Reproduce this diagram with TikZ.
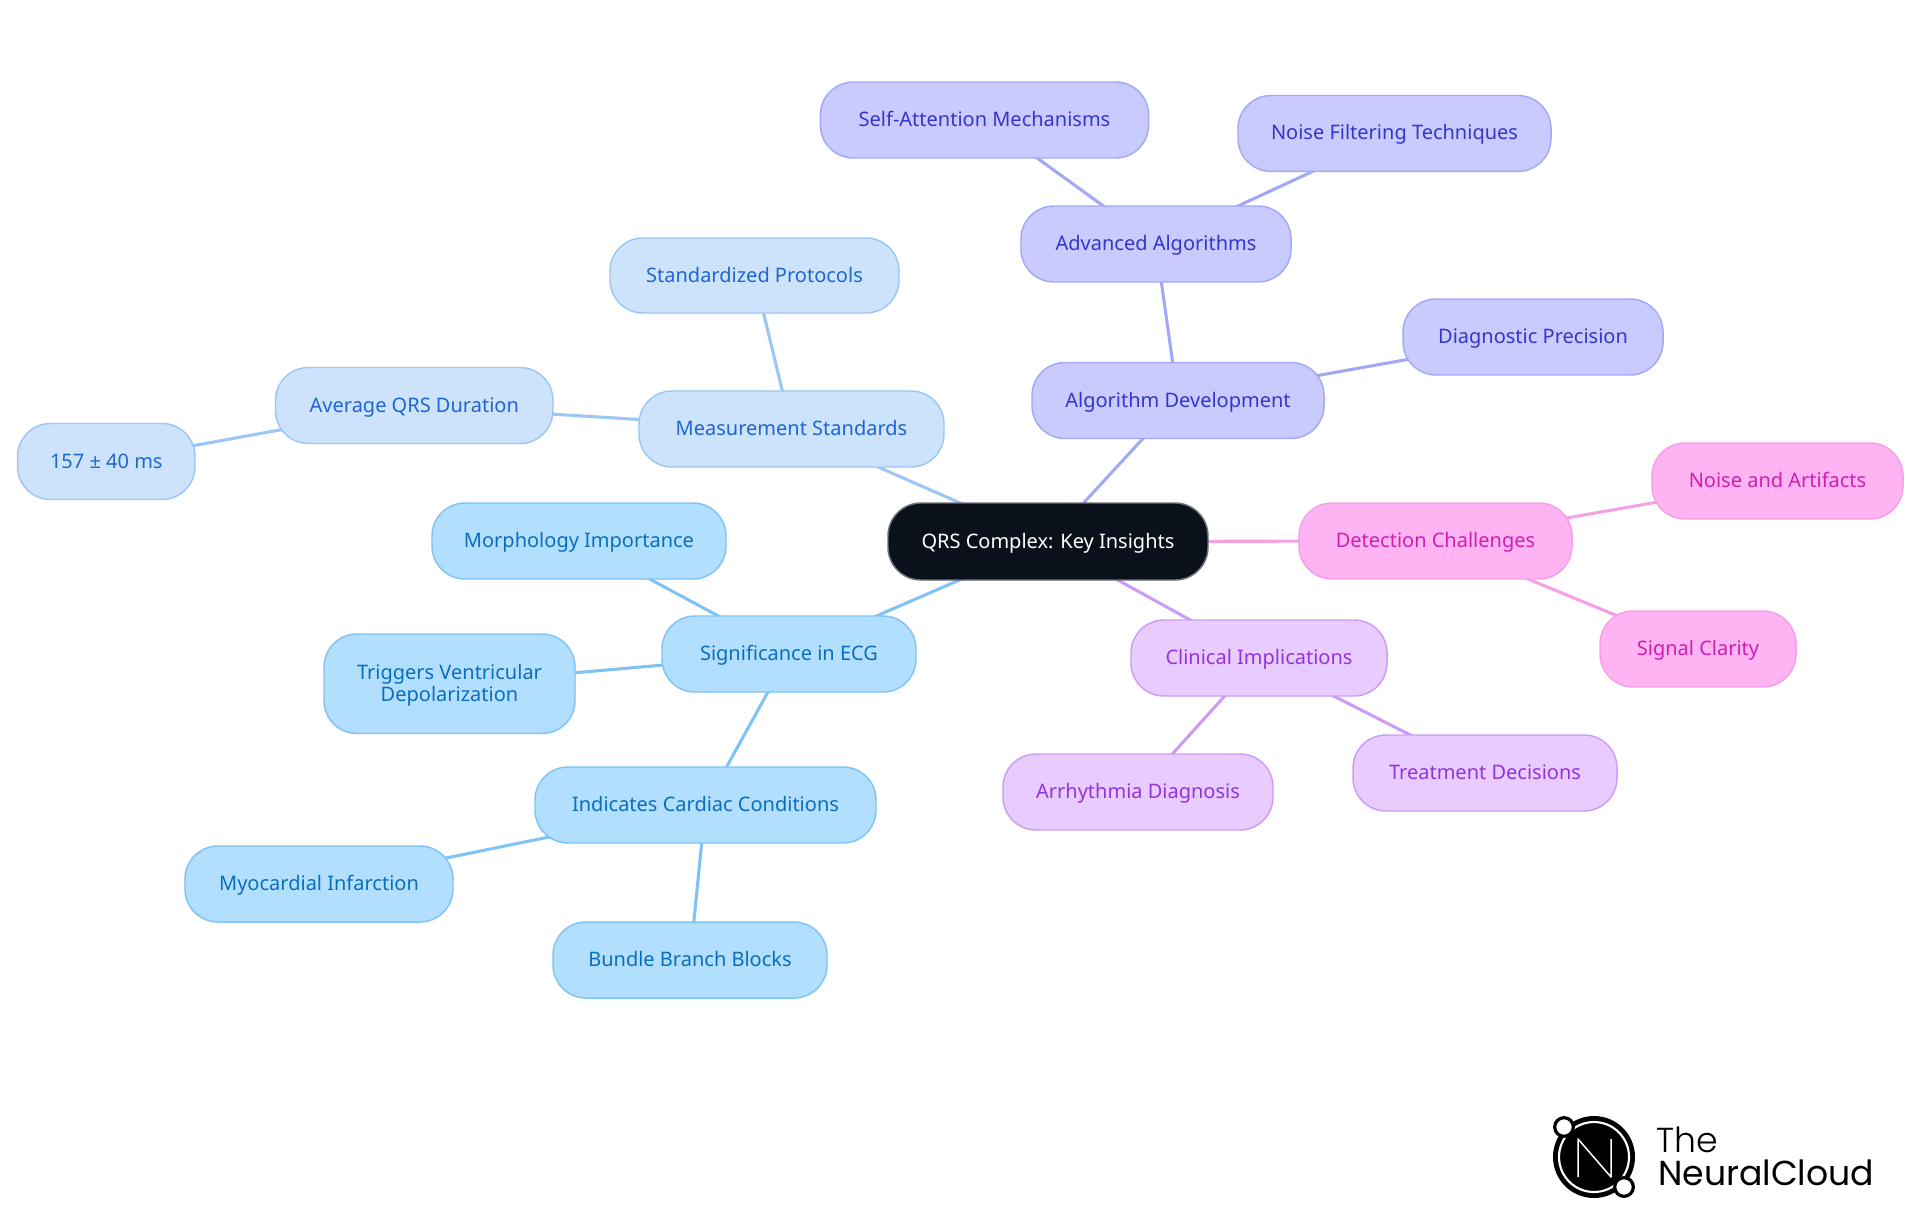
\documentclass[tikz,border=0pt]{standalone}
\usepackage{fontspec}
\setmainfont{Noto Sans}
\newfontfamily\logofont{Poppins}
\newfontfamily\logothin{Poppins Light}
\usetikzlibrary{backgrounds}
\definecolor{rootfill}{HTML}{0B111B}
\definecolor{rootline}{HTML}{6B7078}
\definecolor{bluefill}{HTML}{B3DFFE}\definecolor{blueline}{HTML}{7FC3F5}\definecolor{bluetext}{HTML}{0A6EBE}
\definecolor{skyfill}{HTML}{CDE3FC}\definecolor{skyline}{HTML}{9CC6F5}\definecolor{skytext}{HTML}{1F66D0}
\definecolor{indfill}{HTML}{C9CBFE}\definecolor{indline}{HTML}{A3A8F5}\definecolor{indtext}{HTML}{3535CC}
\definecolor{purfill}{HTML}{E8CBFF}\definecolor{purline}{HTML}{CC9CF5}\definecolor{purtext}{HTML}{9333DE}
\definecolor{pinkfill}{HTML}{FEB3F2}\definecolor{pinkline}{HTML}{F5A0E6}\definecolor{pinktext}{HTML}{D01FB0}
\tikzset{
  pill/.style={rectangle,rounded corners=33*0.75pt,line width=1.1pt,inner sep=0pt,align=center,
    font=\fontsize{15pt}{16.5pt}\selectfont},
  rootpill/.style={pill,fill=rootfill,draw=rootline,text=white},
  bluepill/.style={pill,fill=bluefill,draw=blueline,text=bluetext},
  skypill/.style={pill,fill=skyfill,draw=skyline,text=skytext},
  indpill/.style={pill,fill=indfill,draw=indline,text=indtext},
  purpill/.style={pill,fill=purfill,draw=purline,text=purtext},
  pinkpill/.style={pill,fill=pinkfill,draw=pinkline,text=pinktext},
  link/.style={line width=2.3pt},
}
% name, x1, y1, x2, y2 (pixels, y down), style, text
\newcommand{\pillnode}[7]{%
  \pgfmathsetmacro{\pcx}{(#2+#4)/2}\pgfmathsetmacro{\pcy}{-(#3+#5)/2}%
  \pgfmathsetmacro{\pw}{(#4-#2)*0.75}\pgfmathsetmacro{\ph}{(#5-#3)*0.75}%
  \node[#6,minimum width=\pw pt,minimum height=\ph pt] (#1) at (\pcx,\pcy) {\rule[-3.5pt]{0pt}{16.9pt}#7};}
\begin{document}
\begin{tikzpicture}[x=0.75pt,y=0.75pt]
\useasboundingbox (0,0) rectangle (1920,-1215);
\pillnode{root}{888}{503}{1208}{580}{rootpill}{QRS Complex: Key Insights}
\pillnode{ms}{639}{391}{944}{467}{skypill}{Measurement Standards}
\pillnode{sp}{610}{238}{899}{313}{skypill}{Standardized Protocols}
\pillnode{aq}{275.5}{367.5}{553}{443.5}{skypill}{Average QRS Duration}
\pillnode{dur}{17.6}{423.5}{195}{499.5}{skypill}{157 ± 40 ms}
\pillnode{sa}{820.4}{82}{1148.6}{158}{indpill}{Self-Attention Mechanisms}
\pillnode{nf}{1238}{95.5}{1551}{171.4}{indpill}{Noise Filtering Techniques}
\pillnode{aa}{1021}{206}{1291}{282}{indpill}{Advanced Algorithms}
\pillnode{ad}{1032}{362.5}{1324}{438.5}{indpill}{Algorithm Development}
\pillnode{dp}{1403}{299}{1663}{375}{indpill}{Diagnostic Precision}
\pillnode{na}{1652}{443}{1903}{519}{pinkpill}{Noise and Artifacts}
\pillnode{dc}{1299}{503}{1572}{579}{pinkpill}{Detection Challenges}
\pillnode{sc}{1600}{611}{1796}{687}{pinkpill}{Signal Clarity}
\pillnode{ci}{1131}{620}{1387}{696}{purpill}{Clinical Implications}
\pillnode{td}{1353}{735}{1617}{811}{purpill}{Treatment Decisions}
\pillnode{ar}{1003}{754}{1273}{830}{purpill}{Arrhythmia Diagnosis}
\pillnode{se}{662}{616}{916}{692}{bluepill}{Significance in ECG}
\pillnode{mi}{432}{503}{726}{579}{bluepill}{Morphology Importance}
\pillnode{tv}{324}{634}{575}{733.5}{bluepill}{Triggers Ventricular\\\rule[-3.5pt]{0pt}{3.5pt}Depolarization}
\pillnode{ic}{535}{767}{876}{843}{bluepill}{Indicates Cardiac Conditions}
\pillnode{my}{185}{846}{453}{922}{bluepill}{Myocardial Infarction}
\pillnode{bb}{553}{922}{827}{998}{bluepill}{Bundle Branch Blocks}
\begin{scope}[on background layer]
\draw[link,skyline] (root.center)--(ms.center) (ms.center)--(sp.center) (ms.center)--(aq.center) (aq.center)--(dur.center);
\draw[link,indline] (root.center)--(ad.center) (ad.center)--(aa.center) (ad.center)--(dp.center) (aa.center)--(sa.center) (aa.center)--(nf.center);
\draw[link,pinkline] (root.center)--(dc.center) (dc.center)--(na.center) (dc.center)--(sc.center);
\draw[link,purline] (root.center)--(ci.center) (ci.center)--(td.center) (ci.center)--(ar.center);
\draw[link,blueline] (root.center)--(se.center) (se.center)--(mi.center) (se.center)--(tv.center) (se.center)--(ic.center) (ic.center)--(my.center) (ic.center)--(bb.center);
\end{scope}
% logo
\fill[black] (1594,-1157) circle (41);
\draw[white,line width=1.6pt] (1594,-1157) circle (35);
\draw[white,line width=1.1pt,line join=round] (1578,-1177)--(1578,-1139)--(1611,-1177)--(1611,-1139);
\node[circle,fill=white,draw=black,line width=2.4pt,minimum size=14pt,inner sep=0pt] (lga) at (1564,-1127) {};
\node[circle,fill=white,draw=black,line width=2.4pt,minimum size=14pt,inner sep=0pt] (lgb) at (1624,-1187) {};
\node[anchor=base west,inner sep=0pt,font=\logothin\fontsize{26pt}{26pt}\selectfont] (lt) at (1656,-1152) {The};
\node[anchor=base west,inner sep=0pt,font=\logofont\fontsize{26pt}{26pt}\selectfont] (ln) at (1658,-1185) {NeuralCloud};
\end{tikzpicture}
\end{document}
